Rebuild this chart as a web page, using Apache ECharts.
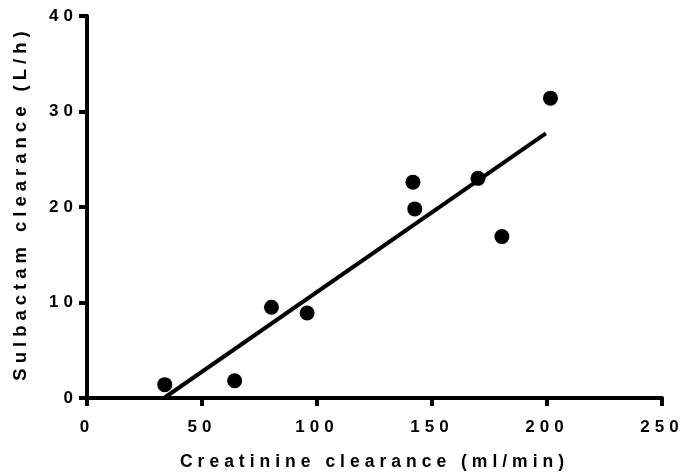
<!DOCTYPE html>
<html>
<head>
<meta charset="utf-8">
<script src="https://cdn.jsdelivr.net/npm/echarts@6/dist/echarts.min.js"></script>
<style>
  html, body { margin: 0; padding: 0; background: #fff; }
  #chart { width: 684px; height: 476px; }
</style>
</head>
<body>
<div id="chart"></div>
<script>
// Creatinine clearance (ml/min) vs sulbactam clearance (L/h)
const creatinineClearance = [33.8, 64.2, 80.2, 95.7, 141.7, 142.5, 170.0, 180.4, 201.5];
const sulbactamClearance  = [1.4, 1.8, 9.5, 8.9, 22.6, 19.8, 23.0, 16.9, 31.4];

// Fitted regression line, drawn between its two end points
const fitX = [33.5, 199.5];
const fitY = [0.0, 27.7];

const xTicks = [0, 50, 100, 150, 200, 250];
const yTicks = [0, 10, 20, 30, 40];

const points = creatinineClearance.map((x, i) => [x, sulbactamClearance[i]]);
const fitLine = fitX.map((x, i) => [x, fitY[i]]);

// Wide letter spacing for every piece of text painted on the chart canvas
(function () {
  const proto = CanvasRenderingContext2D.prototype;
  const fillText = proto.fillText;
  proto.fillText = function () {
    if ('letterSpacing' in this) this.letterSpacing = '5px';
    return fillText.apply(this, arguments);
  };
})();

const chart = echarts.init(document.getElementById('chart'));

const fontFamily = 'Liberation Sans, Arial, sans-serif';

function axis(extra) {
  return Object.assign({
    type: 'value',
    nameLocation: 'middle',
    axisLine: { show: true, onZero: false, lineStyle: { color: '#000', width: 4 } },
    axisTick: { show: true, inside: false, length: 8, lineStyle: { color: '#000', width: 4 } },
    splitLine: { show: false }
  }, extra);
}

const labelStyle = { color: '#000', fontFamily: fontFamily, fontWeight: 'bold', fontSize: 17 };

chart.setOption({
  animation: false,
  grid: { left: 87, right: 22, top: 16, bottom: 77, containLabel: false },
  xAxis: axis({
    min: xTicks[0], max: xTicks[xTicks.length - 1], interval: 50,
    name: 'Creatinine clearance (ml/min)',
    nameGap: 55,
    nameTextStyle: { color: '#000', fontFamily: fontFamily, fontWeight: 'bold', fontSize: 17.5 },
    axisLabel: Object.assign({ margin: 21 }, labelStyle)
  }),
  yAxis: axis({
    min: yTicks[0], max: yTicks[yTicks.length - 1], interval: 10,
    name: 'Sulbactam clearance (L/h)',
    nameGap: 57,
    nameTextStyle: {
      color: '#000', fontFamily: fontFamily, fontWeight: 'bold', fontSize: 18.5,
      padding: [0, 0, 0, 7]
    },
    axisLabel: Object.assign({ margin: 9 }, labelStyle)
  }),
  series: [
    {
      type: 'scatter',
      data: points,
      symbol: 'circle',
      symbolSize: 15,
      itemStyle: { color: '#000', opacity: 1 },
      z: 3
    },
    {
      type: 'line',
      data: fitLine,
      showSymbol: false,
      symbol: 'none',
      lineStyle: { color: '#000', width: 4 },
      z: 2
    }
  ]
});
</script>
</body>
</html>
